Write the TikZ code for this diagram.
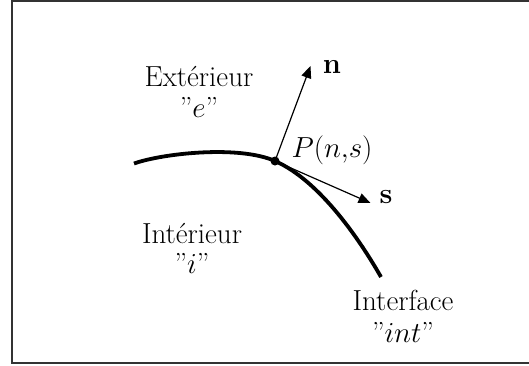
\RequirePackage{fix-cm}
\documentclass[tikz,border=0pt]{standalone}
\usetikzlibrary{arrows.meta}
\begin{document}
\begin{tikzpicture}[x=1pt,y=-1pt,
  lbl/.style={font=\fontsize{29}{34}\selectfont, inner sep=0pt, anchor=center},
  frame/.style={draw=black!80, line width=1.6pt},
  curve/.style={line width=3.8pt},
  vec/.style={line width=1.2pt, -{Triangle[length=12pt,width=10pt]}},
  dot/.style={circle, fill, inner sep=0pt, minimum size=9pt}]
\useasboundingbox (0,0) rectangle (529,365);
\begin{scope}
\clip (0,0) rectangle (529,365);
\draw[frame] (12,1) rectangle (540,363);
\end{scope}
\node[dot] (P) at (275,161) {};
\coordinate (cstart) at (134,163.5);
\coordinate (cend) at (381,277);
\draw[curve] (cstart) .. controls (162.3,153.5) and (238.4,144.9) .. (P.center)
  .. controls (320.8,181.2) and (361.2,242.3) .. (cend);
\coordinate (ntip) at (310.5,66);
\coordinate (stip) at (370.5,203);
\draw[vec] (P.center) -- (ntip);
\draw[vec] (P.center) -- (stip);
\node[lbl] (nlab) at (332,67) {$\mathbf{n}$};
\node[lbl] (slab) at (386,197) {$\mathbf{s}$};
\node[lbl] (Plab) at (332,150) {$P(n{,}s)$};
\node[lbl] (ext) at (199,77) {Extérieur};
\node[lbl] (extq) at (199,107) {"$e$"};
\node[lbl] (int) at (192,234) {Intérieur};
\node[lbl] (intq) at (192,263) {"$i$"};
\node[lbl] (itf) at (403,300) {Interface};
\node[lbl] (itfq) at (403,332) {"$int$"};
\end{tikzpicture}
\end{document}
